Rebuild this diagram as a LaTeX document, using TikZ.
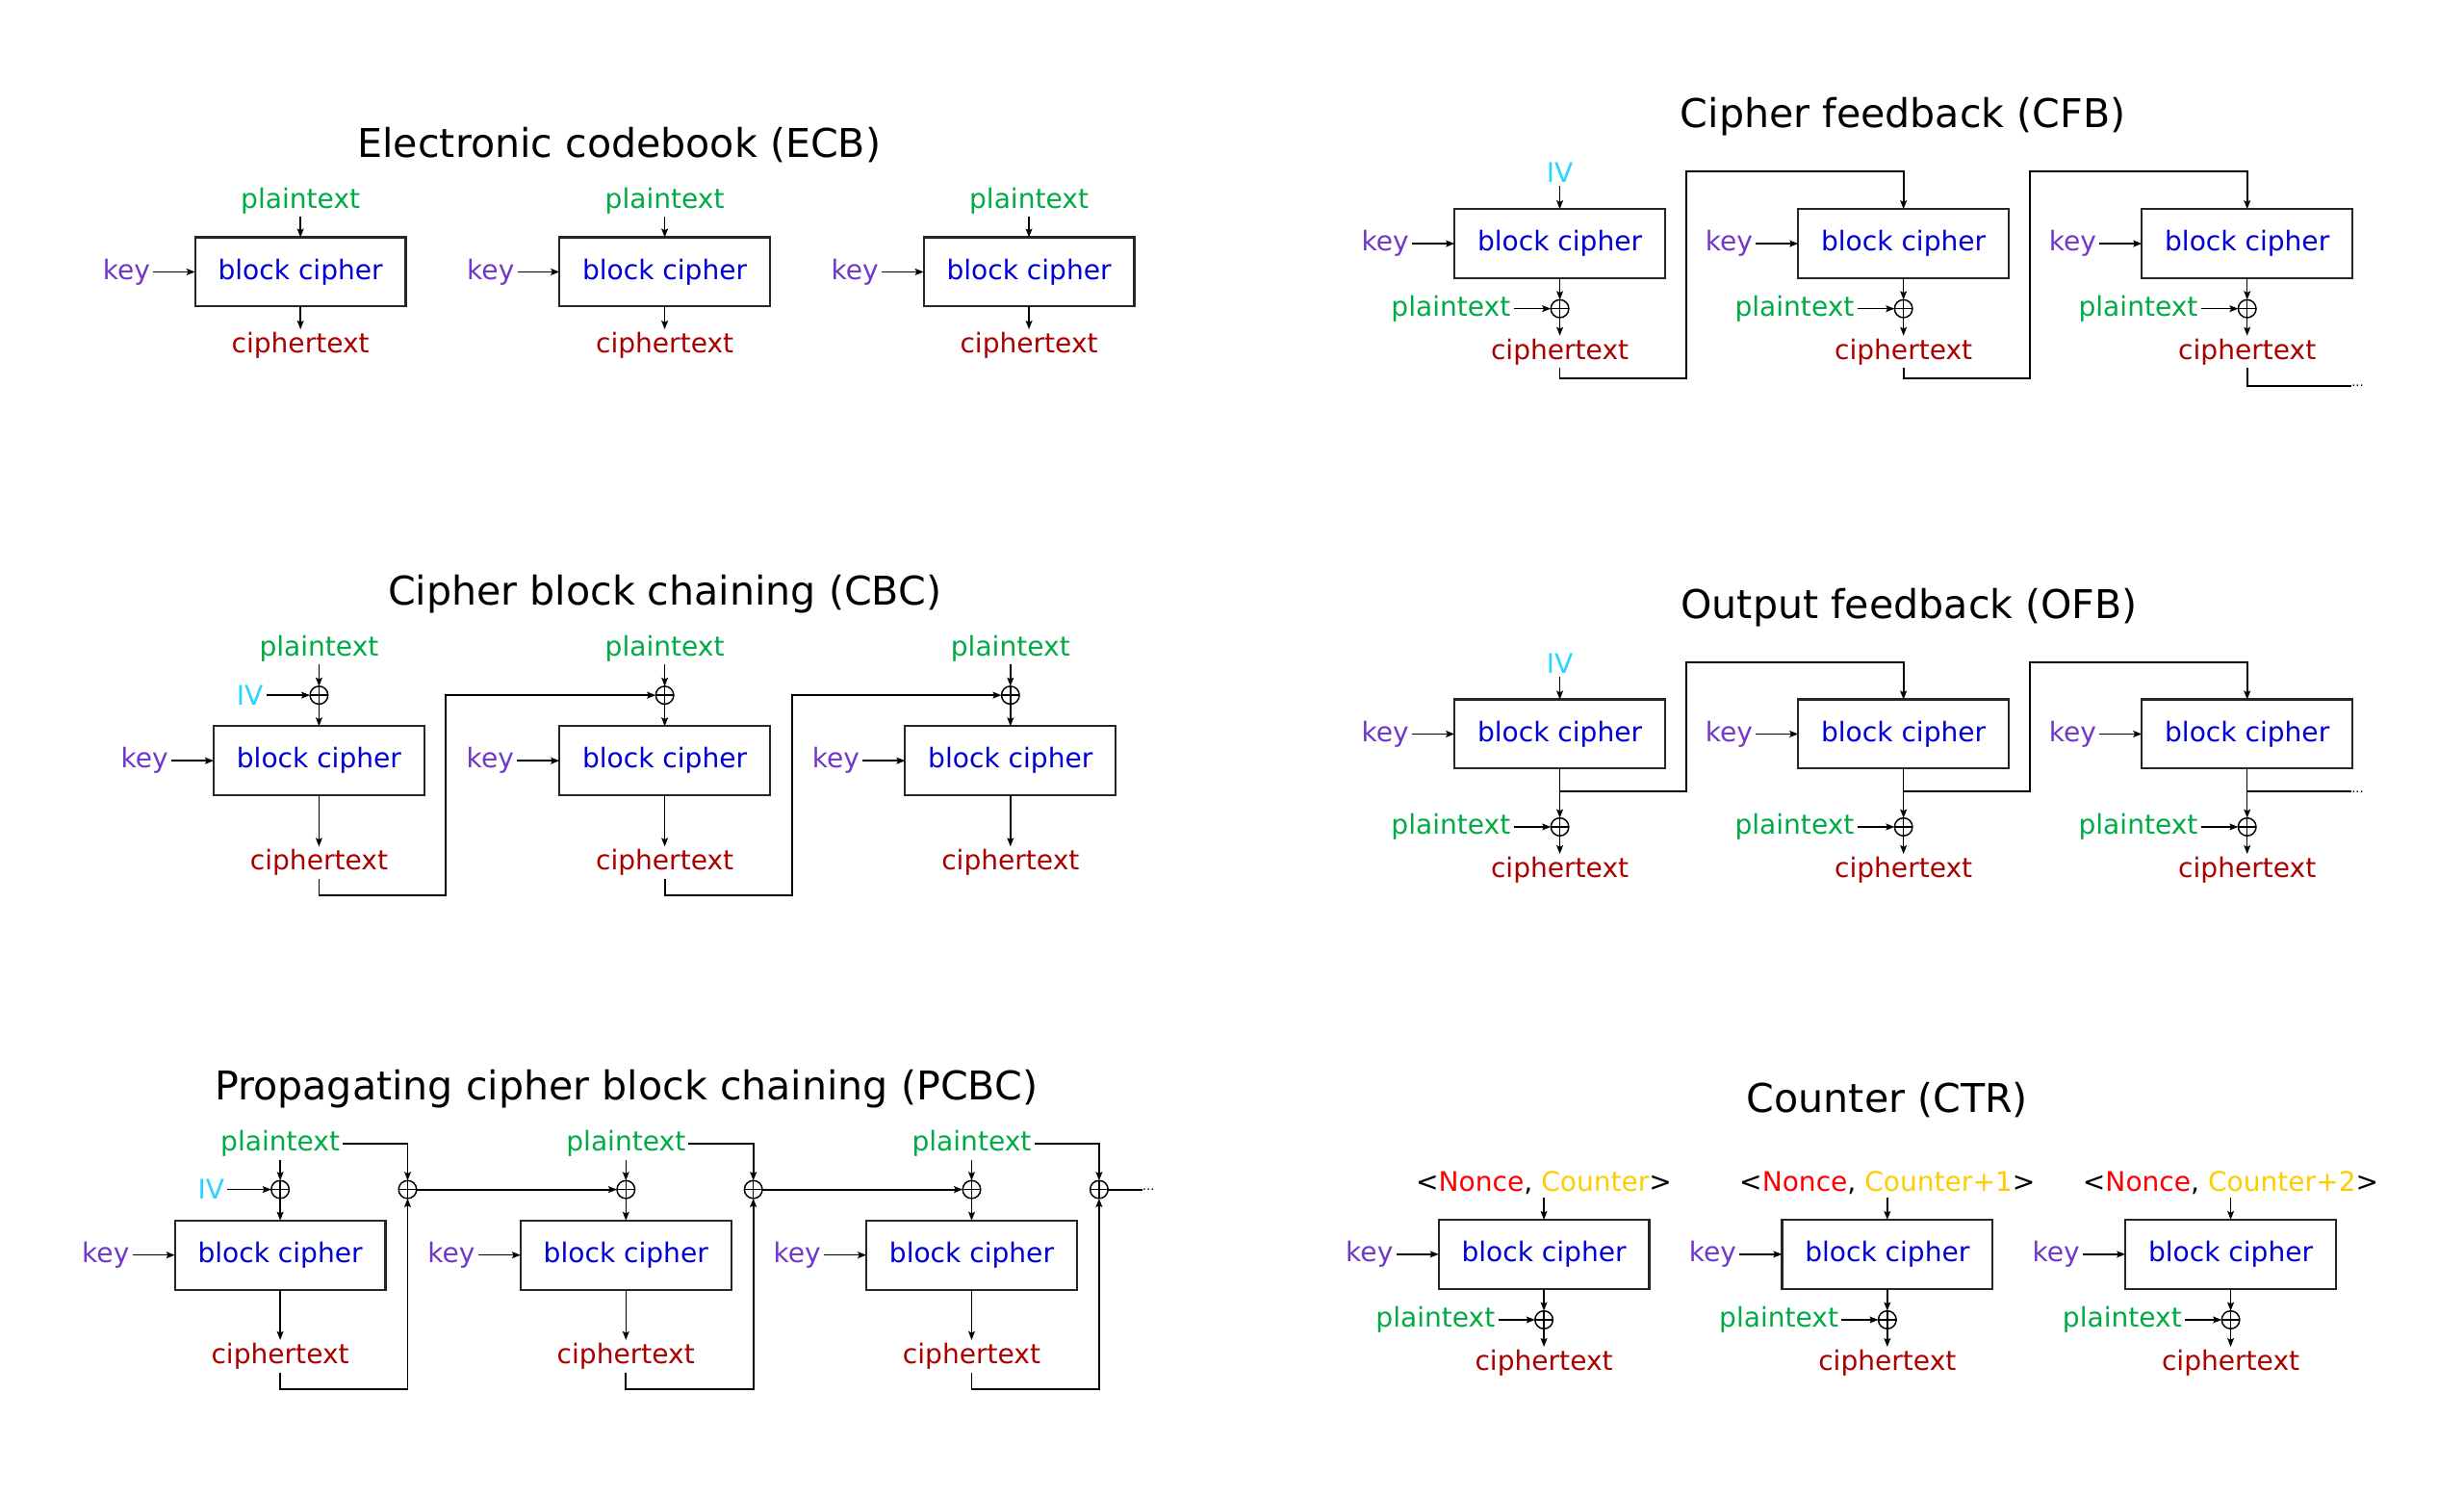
\documentclass[tikz,border=0pt]{standalone}
\usepackage{fontspec}
\setmainfont{DejaVu Sans}
\usepackage{tikz}
\usetikzlibrary{positioning, arrows.meta, calc}
\definecolor{keyc}{HTML}{7137C8}
\definecolor{bcblue}{HTML}{0000D4}
\definecolor{ptgreen}{HTML}{00AA44}
\definecolor{ctred}{HTML}{AA0000}
\definecolor{ivcyan}{HTML}{2AD4FF}
\definecolor{noncered}{HTML}{FF0000}
\definecolor{ctryellow}{HTML}{FFCC00}
\newcommand{\lblsize}{\fontsize{17.2}{20}\selectfont}
\newcommand{\ttlsize}{\fontsize{25.2}{30}\selectfont}

\begin{document}
\begin{tikzpicture}[x=1pt, y=1pt,
    cipher/.style={draw=black!85, line width=1.3pt, minimum width=134pt, minimum height=44pt,
                   inner sep=0pt, outer sep=0pt, text=bcblue, font=\lblsize},
    lbl/.style={inner sep=0pt, outer sep=2pt, font=\lblsize},
    keyl/.style={lbl, text=keyc},
    ptl/.style={lbl, text=ptgreen},
    ctl/.style={lbl, text=ctred},
    ivl/.style={lbl, text=ivcyan},
    ttl/.style={font=\ttlsize, inner sep=0pt},
    xor/.style={circle, draw, line width=0.9pt, minimum size=11.4pt, inner sep=0pt, outer sep=0pt,
                path picture={\draw[line width=0.9pt]
                  (path picture bounding box.north) -- (path picture bounding box.south)
                  (path picture bounding box.west) -- (path picture bounding box.east);}},
    arr/.style={line width=0.9pt, -{Stealth[length=5.5pt, width=4.2pt, inset=1pt]}},
    fbarr/.style={arr, line width=1.1pt},
    wire/.style={line width=1.1pt},
    more/.style={inner sep=0pt, outer sep=0pt, font=\fontsize{8}{9}\selectfont}
  ]
  \useasboundingbox (0,0) rectangle (1568,-952);

  % ECB
  \node[ttl] (ecbt) at (394,-92) {Electronic codebook (ECB)};
  \foreach \i/\x in {1/191.2, 2/423, 3/654.8} {
    \node[cipher] (e\i) at (\x,-173) {block cipher};
    \node[keyl, left=26.7pt of e\i] (ek\i) {key};
    \node[ptl, above=13pt of e\i] (ep\i) {plaintext};
    \node[ctl, below=14.5pt of e\i] (ec\i) {ciphertext};
    \draw[arr] (ek\i) -- (e\i);
    \draw[arr] (ep\i) -- (e\i);
    \draw[arr] (e\i) -- (ec\i);
  }

  % CFB
  \node[ttl] (cfbt) at (1211,-74.5) {Cipher feedback (CFB)};
  \foreach \i/\x in {1/992.6, 2/1211.3, 3/1430} {
    \node[cipher] (f\i) at (\x,-155) {block cipher};
    \node[keyl, left=27pt of f\i] (fk\i) {key};
    \node[xor, below=13.7pt of f\i] (fx\i) {};
    \node[ptl, left=23.7pt of fx\i] (fp\i) {plaintext};
    \node[ctl, below=11.5pt of fx\i] (fc\i) {ciphertext};
    \draw[arr] (fk\i) -- (f\i);
    \draw[arr] (f\i) -- (fx\i);
    \draw[arr] (fp\i) -- (fx\i);
    \draw[arr] (fx\i) -- (fc\i);
  }
  \node[ivl, above=14.7pt of f1] (fiv) {IV};
  \draw[arr] (fiv) -- (f1);
  \foreach \i/\j/\x in {1/2/1073, 2/3/1291.7} {
    \draw[fbarr] (fc\i.south) |- (\x,-240.5) |- (f\j.north |- 0,-109.2) -- (f\j.north);
  }
  \node[more, anchor=west] (fmore) at (1496.5,-245.4) {...};
  \draw[wire] (fc3.south) |- (fmore.west);

  % OFB
  \node[ttl] (ofbt) at (1215,-386.5) {Output feedback (OFB)};
  \foreach \i/\x in {1/992.6, 2/1211.3, 3/1430} {
    \node[cipher] (o\i) at (\x,-467) {block cipher};
    \node[keyl, left=27pt of o\i] (ok\i) {key};
    \node[xor, below=31.4pt of o\i] (ox\i) {};
    \node[ptl, left=23.7pt of ox\i] (op\i) {plaintext};
    \node[ctl, below=11.5pt of ox\i] (oc\i) {ciphertext};
    \coordinate (ob\i) at (o\i.south |- 0,-503.7);
    \draw[arr] (ok\i) -- (o\i);
    \draw[arr] (o\i) -- (ox\i);
    \draw[arr] (op\i) -- (ox\i);
    \draw[arr] (ox\i) -- (oc\i);
  }
  \node[ivl, above=14.7pt of o1] (oiv) {IV};
  \draw[arr] (oiv) -- (o1);
  \foreach \i/\j/\x in {1/2/1073, 2/3/1291.7} {
    \draw[fbarr] (ob\i) -| (\x,-421.2) -| (o\j.north);
  }
  \node[more, anchor=west] (omore) at (1496.5,-503.7) {...};
  \draw[wire] (ob3) -- (omore.west);

  % CBC
  \node[ttl] (cbct) at (423,-378) {Cipher block chaining (CBC)};
  \foreach \i/\x in {1/203, 2/423, 3/643} {
    \node[cipher] (c\i) at (\x,-484) {block cipher};
    \node[keyl, left=27pt of c\i] (ck\i) {key};
    \node[xor, above=14pt of c\i] (cx\i) {};
    \node[ptl, above=13.9pt of cx\i] (cp\i) {plaintext};
    \node[ctl, below=32.6pt of c\i] (cc\i) {ciphertext};
    \draw[arr] (ck\i) -- (c\i);
    \draw[arr] (cp\i) -- (cx\i);
    \draw[arr] (cx\i) -- (c\i);
    \draw[arr] (c\i) -- (cc\i);
  }
  \node[ivl, left=27.9pt of cx1] (civ) {IV};
  \draw[arr] (civ) -- (cx1);
  \foreach \i/\j/\x in {1/2/283.4, 2/3/504.1} {
    \draw[fbarr] (cc\i.south) |- (\x,-569.6) |- (cx\j);
  }

  % PCBC
  \node[ttl] (pcbct) at (398.5,-693) {Propagating cipher block chaining (PCBC)};
  \foreach \i/\x in {1/178.3, 2/398.3, 3/618.3} {
    \node[cipher] (p\i) at (\x,-798.5) {block cipher};
    \node[keyl, left=27pt of p\i] (pk\i) {key};
    \node[xor, above=14pt of p\i] (px\i) {};
    \node[ptl, above=13pt of px\i] (pp\i) {plaintext};
    \node[xor, right=69.7pt of px\i] (pa\i) {};
    \node[ctl, below=32pt of p\i] (pc\i) {ciphertext};
    \draw[arr] (pk\i) -- (p\i);
    \draw[arr] (pp\i) -- (px\i);
    \draw[arr] (px\i) -- (p\i);
    \draw[arr] (p\i) -- (pc\i);
    \draw[fbarr] (pp\i.east) -| (pa\i);
    \draw[fbarr] (pc\i.south) |- (pa\i |- 0,-884) -- (pa\i);
  }
  \node[ivl, left=27.8pt of px1] (piv) {IV};
  \draw[arr] (piv) -- (px1);
  \draw[fbarr] (pa1) -- (px2);
  \draw[fbarr] (pa2) -- (px3);
  \node[more, anchor=west] (pmore) at (727,-756.8) {...};
  \draw[wire] (pa3) -- (pmore.west);

  % CTR
  \node[ttl] (ctrt) at (1201,-700) {Counter (CTR)};
  \foreach \i/\x/\n in {1/982.5/{}, 2/1201/+1, 3/1419.5/+2} {
    \node[cipher] (t\i) at (\x,-798) {block cipher};
    \node[keyl, left=27pt of t\i] (tk\i) {key};
    \node[lbl, above=14pt of t\i] (tn\i)
      {<\textcolor{noncered}{Nonce}, \textcolor{ctryellow}{Counter\n}>};
    \node[xor, below=14pt of t\i] (tx\i) {};
    \node[ptl, left=23.4pt of tx\i] (tp\i) {plaintext};
    \node[ctl, below=11.5pt of tx\i] (tc\i) {ciphertext};
    \draw[arr] (tk\i) -- (t\i);
    \draw[arr] (tn\i) -- (t\i);
    \draw[arr] (t\i) -- (tx\i);
    \draw[arr] (tp\i) -- (tx\i);
    \draw[arr] (tx\i) -- (tc\i);
  }
\end{tikzpicture}
\end{document}
